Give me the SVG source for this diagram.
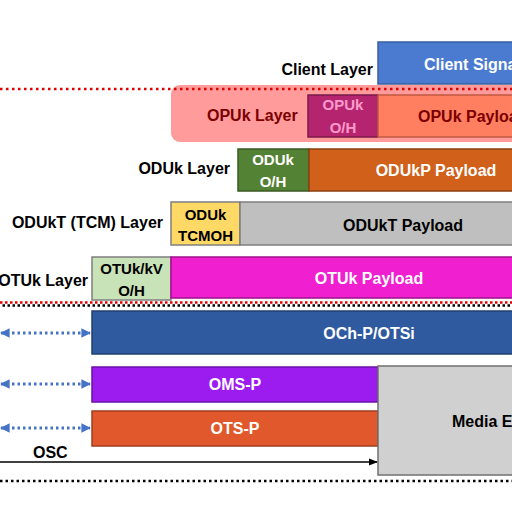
<svg xmlns="http://www.w3.org/2000/svg" width="512" height="512" viewBox="0 0 512 512">
<defs>
<style>
text{font-family:"Liberation Sans",Arial,sans-serif;font-weight:bold;font-size:16px}
.lbl{fill:#000;text-anchor:end}
.w{fill:#fff;text-anchor:middle}
.b{fill:#000;text-anchor:middle}
.sm{font-size:15px}
.box{stroke-width:1.5}
.blue-arrow{stroke:#4472c4;stroke-width:3;stroke-dasharray:2.5 3;fill:none}
</style>
<marker id="ba" viewBox="0 0 10 10" refX="9" refY="5" markerWidth="3.2" markerHeight="3.8" orient="auto-start-reverse" markerUnits="strokeWidth">
<path d="M0,0 L10,5 L0,10 z" fill="#4472c4"/>
</marker>
<marker id="ka" viewBox="0 0 10 10" refX="9" refY="5" markerWidth="6" markerHeight="6" orient="auto" markerUnits="strokeWidth">
<path d="M0,1 L10,5 L0,9 z" fill="#000"/>
</marker>
</defs>
<rect width="512" height="512" fill="#fff"/>

<g id="client">
<text class="lbl" x="373" y="75">Client Layer</text>
<rect class="box" x="378" y="42" width="150" height="42" fill="#4a7bd0" stroke="#3a5f9e"/>
<text x="424" y="70" fill="#fff">Client Signa</text>
</g>

<g id="opuk">
<rect x="171" y="85" width="360" height="57" rx="9" fill="#ff9b9b"/>
<text x="207" y="121" fill="#7a0000">OPUk Layer</text>
<rect class="box" x="308" y="95" width="70" height="42" fill="#b5256f" stroke="#7a1a4a"/>
<text class="sm" x="343" y="110" text-anchor="middle" fill="#ff99cc">OPUk</text>
<text class="sm" x="343" y="133" text-anchor="middle" fill="#ff99cc">O/H</text>
<rect class="box" x="378" y="95" width="150" height="42" fill="#ff7f60" stroke="#c05a40"/>
<text x="418" y="122" fill="#7a0000">OPUk Payloa</text>
</g>

<g id="oduk">
<text class="lbl" x="230" y="174">ODUk Layer</text>
<rect class="box" x="238" y="149" width="71" height="42" fill="#548235" stroke="#3a5a25"/>
<text class="w sm" x="273" y="165">ODUk</text>
<text class="w sm" x="273" y="187">O/H</text>
<rect class="box" x="309" y="149" width="215" height="42" fill="#d0601a" stroke="#8a4010"/>
<text class="w" x="436" y="176">ODUkP Payload</text>
</g>

<g id="odukt">
<text class="lbl" x="163" y="228">ODUkT (TCM) Layer</text>
<rect class="box" x="171" y="202" width="69" height="43" fill="#ffd966" stroke="#7f7f7f"/>
<text class="b sm" x="205.500" y="220">ODUk</text>
<text class="b sm" x="205.500" y="241">TCMOH</text>
<rect class="box" x="240" y="202" width="285" height="43" fill="#bfbfbf" stroke="#7f7f7f"/>
<text class="b" x="403" y="231">ODUkT Payload</text>
</g>

<g id="otuk">
<text class="lbl" x="88" y="286">OTUk Layer</text>
<rect class="box" x="92" y="257" width="79" height="43" fill="#c9e3b8" stroke="#7f7f7f"/>
<text class="b sm" x="131.500" y="274">OTUk/kV</text>
<text class="b sm" x="131.500" y="296">O/H</text>
<rect class="box" x="171" y="257" width="355" height="41" fill="#f020d0" stroke="#a0108a"/>
<text class="w" x="369" y="284">OTUk Payload</text>
</g>

<g id="och">
<rect class="box" x="92" y="311" width="435" height="43" fill="#2f5aa0" stroke="#203f70"/>
<text class="w" x="369" y="339">OCh-P/OTSi</text>
</g>

<g id="oms">
<rect class="box" x="92" y="367" width="286" height="35" fill="#9c1cf0" stroke="#6a10a8"/>
<text class="w" x="235" y="390">OMS-P</text>
</g>

<g id="ots">
<rect class="box" x="92" y="411" width="286" height="35" fill="#e0582c" stroke="#a03c1c"/>
<text class="w" x="235" y="434">OTS-P</text>
</g>

<g id="media">
<rect class="box" x="378" y="366" width="150" height="109" fill="#d0d0d0" stroke="#707070"/>
<text x="452" y="427" fill="#000">Media E</text>
</g>

<g id="osc">
<text x="33" y="458" fill="#000">OSC</text>
</g>

<g id="connectors">
<line x1="0" y1="89" x2="512" y2="89" stroke="#e00000" stroke-width="2.5" stroke-dasharray="2.5 3.5"/>
<line x1="0" y1="302.500" x2="512" y2="302.500" stroke="#e00000" stroke-width="2.5" stroke-dasharray="2.5 2.5"/>
<line x1="0" y1="305.500" x2="512" y2="305.500" stroke="#000" stroke-width="2.5" stroke-dasharray="2.5 2.5" stroke-dashoffset="2.5"/>
<line class="blue-arrow" x1="1" y1="333" x2="90" y2="333" marker-start="url(#ba)" marker-end="url(#ba)"/>
<line class="blue-arrow" x1="1" y1="384" x2="90" y2="384" marker-start="url(#ba)" marker-end="url(#ba)"/>
<line class="blue-arrow" x1="1" y1="428" x2="90" y2="428" marker-start="url(#ba)" marker-end="url(#ba)"/>
<line x1="0" y1="462" x2="377" y2="462" stroke="#000" stroke-width="1.5" marker-end="url(#ka)"/>
<line x1="0" y1="481" x2="512" y2="481" stroke="#000" stroke-width="2.5" stroke-dasharray="2.5 3"/>
</g>
</svg>
